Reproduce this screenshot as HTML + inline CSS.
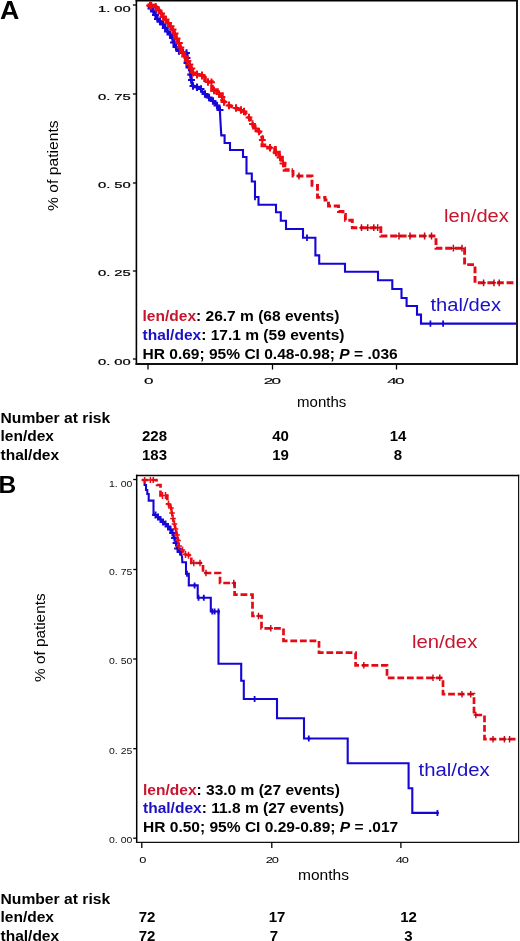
<!DOCTYPE html>
<html><head><meta charset="utf-8"><style>
html,body{margin:0;padding:0;background:#fff;}
svg{display:block;font-family:"Liberation Sans", sans-serif;will-change:transform;}
</style></head><body>
<svg width="520" height="941" viewBox="0 0 520 941">
<defs>
<clipPath id="cA"><rect x="137" y="1" width="379" height="362"/></clipPath>
<clipPath id="cB"><rect x="137" y="476" width="381" height="366"/></clipPath>
</defs>
<rect width="520" height="941" fill="#fff"/>
<line x1="136.4" y1="-0.10000000000000009" x2="136.4" y2="364.95" stroke="#000" stroke-width="1.6"/>
<line x1="135.6" y1="0.7" x2="517.95" y2="0.7" stroke="#000" stroke-width="1.6"/>
<line x1="517" y1="-0.10000000000000009" x2="517" y2="364.95" stroke="#111" stroke-width="1.9"/>
<line x1="135.6" y1="364" x2="517.95" y2="364" stroke="#111" stroke-width="1.9"/>
<line x1="132.9" y1="5" x2="136.4" y2="5" stroke="#000" stroke-width="1.3"/>
<line x1="132.9" y1="94" x2="136.4" y2="94" stroke="#000" stroke-width="1.3"/>
<line x1="132.9" y1="183" x2="136.4" y2="183" stroke="#000" stroke-width="1.3"/>
<line x1="132.9" y1="271" x2="136.4" y2="271" stroke="#000" stroke-width="1.3"/>
<line x1="132.9" y1="359" x2="136.4" y2="359" stroke="#000" stroke-width="1.3"/>
<line x1="148" y1="364" x2="148" y2="369.5" stroke="#000" stroke-width="1.3"/>
<line x1="272.5" y1="364" x2="272.5" y2="369.5" stroke="#000" stroke-width="1.3"/>
<line x1="396.5" y1="364" x2="396.5" y2="369.5" stroke="#000" stroke-width="1.3"/>
<line x1="136.7" y1="474.85" x2="136.7" y2="843.05" stroke="#000" stroke-width="1.5"/>
<line x1="135.95" y1="475.5" x2="519.2" y2="475.5" stroke="#000" stroke-width="1.3"/>
<line x1="518.6" y1="474.85" x2="518.6" y2="843.05" stroke="#111" stroke-width="1.2"/>
<line x1="135.95" y1="842.4" x2="519.2" y2="842.4" stroke="#111" stroke-width="1.3"/>
<line x1="133.2" y1="479.5" x2="136.7" y2="479.5" stroke="#000" stroke-width="1.3"/>
<line x1="133.2" y1="569.5" x2="136.7" y2="569.5" stroke="#000" stroke-width="1.3"/>
<line x1="133.2" y1="659" x2="136.7" y2="659" stroke="#000" stroke-width="1.3"/>
<line x1="133.2" y1="748.7" x2="136.7" y2="748.7" stroke="#000" stroke-width="1.3"/>
<line x1="133.2" y1="838.2" x2="136.7" y2="838.2" stroke="#000" stroke-width="1.3"/>
<line x1="141.8" y1="842.4" x2="141.8" y2="847.9" stroke="#000" stroke-width="1.3"/>
<line x1="271.8" y1="842.4" x2="271.8" y2="847.9" stroke="#000" stroke-width="1.3"/>
<line x1="400.9" y1="842.4" x2="400.9" y2="847.9" stroke="#000" stroke-width="1.3"/>
<text transform="translate(130.8 11.7) scale(1.72 1)" font-size="8.6" font-weight="normal" fill="#000" text-anchor="end" stroke="#000" stroke-width="0.2">1. 00</text>
<text transform="translate(130.8 100) scale(1.72 1)" font-size="8.6" font-weight="normal" fill="#000" text-anchor="end" stroke="#000" stroke-width="0.2">0. 75</text>
<text transform="translate(130.8 188.3) scale(1.72 1)" font-size="8.6" font-weight="normal" fill="#000" text-anchor="end" stroke="#000" stroke-width="0.2">0. 50</text>
<text transform="translate(130.8 275.9) scale(1.72 1)" font-size="8.6" font-weight="normal" fill="#000" text-anchor="end" stroke="#000" stroke-width="0.2">0. 25</text>
<text transform="translate(130.8 365) scale(1.72 1)" font-size="8.6" font-weight="normal" fill="#000" text-anchor="end" stroke="#000" stroke-width="0.2">0. 00</text>
<text transform="translate(132.3 486.6) scale(1.22 1)" font-size="8.6" font-weight="normal" fill="#111" text-anchor="end" >1. 00</text>
<text transform="translate(132.3 574.9) scale(1.22 1)" font-size="8.6" font-weight="normal" fill="#111" text-anchor="end" >0. 75</text>
<text transform="translate(132.3 664.3) scale(1.22 1)" font-size="8.6" font-weight="normal" fill="#111" text-anchor="end" >0. 50</text>
<text transform="translate(132.3 754) scale(1.22 1)" font-size="8.6" font-weight="normal" fill="#111" text-anchor="end" >0. 25</text>
<text transform="translate(132.3 843.3) scale(1.22 1)" font-size="8.6" font-weight="normal" fill="#111" text-anchor="end" >0. 00</text>
<text transform="translate(148 384.3) scale(1.9 1)" font-size="9.0" font-weight="normal" fill="#000" text-anchor="middle" letter-spacing="-0.9" stroke="#000" stroke-width="0.12">0</text>
<text transform="translate(271.5 384.3) scale(1.9 1)" font-size="9.0" font-weight="normal" fill="#000" text-anchor="middle" letter-spacing="-0.9" stroke="#000" stroke-width="0.12">20</text>
<text transform="translate(395 384.3) scale(1.9 1)" font-size="9.0" font-weight="normal" fill="#000" text-anchor="middle" letter-spacing="-0.9" stroke="#000" stroke-width="0.12">40</text>
<text transform="translate(142.2 862.7) scale(1.38 1)" font-size="9.3" font-weight="normal" fill="#000" text-anchor="middle" letter-spacing="-0.9">0</text>
<text transform="translate(271.7 862.7) scale(1.38 1)" font-size="9.3" font-weight="normal" fill="#000" text-anchor="middle" letter-spacing="-0.9">20</text>
<text transform="translate(401.7 862.7) scale(1.38 1)" font-size="9.3" font-weight="normal" fill="#000" text-anchor="middle" letter-spacing="-0.9">40</text>
<text transform="translate(297 406.5) scale(1.03 1)" font-size="14.6" font-weight="normal" fill="#000" text-anchor="start" >months</text>
<text transform="translate(298 880.3) scale(1.065 1)" font-size="14.6" font-weight="normal" fill="#000" text-anchor="start" >months</text>
<text transform="translate(57.8 211) rotate(-90) scale(1.12 1)" font-size="14" fill="#000">% of patients</text>
<text transform="translate(44.8 682) rotate(-90) scale(1.095 1)" font-size="14" fill="#000">% of patients</text>
<text transform="translate(0.0 18.7) scale(1.07 1)" font-size="25" font-weight="bold" fill="#000" text-anchor="start" >A</text>
<text transform="translate(-1.5 493) scale(1.0 1)" font-size="24.5" font-weight="bold" fill="#000" text-anchor="start" >B</text>
<text transform="translate(444 221.5) scale(1.13 1)" font-size="17.8" font-weight="normal" fill="#c8142d" text-anchor="start" >len/dex</text>
<text transform="translate(430.5 310.8) scale(1.09 1)" font-size="18.5" font-weight="normal" fill="#1c10c4" text-anchor="start" >thal/dex</text>
<text transform="translate(412 647.8) scale(1.095 1)" font-size="18.5" font-weight="normal" fill="#c8142d" text-anchor="start" >len/dex</text>
<text transform="translate(418.5 776.4) scale(1.07 1)" font-size="19" font-weight="normal" fill="#1c10c4" text-anchor="start" >thal/dex</text>
<text transform="translate(142.5 321) scale(1.036 1)" font-size="15" font-weight="bold"><tspan fill="#c8142d">len/dex</tspan>: 26.7 m (68 events)</text>
<text transform="translate(142.5 340) scale(1.036 1)" font-size="15" font-weight="bold"><tspan fill="#1c10c4">thal/dex</tspan>: 17.1 m (59 events)</text>
<text transform="translate(142.5 359) scale(1.036 1)" font-size="15" font-weight="bold">HR 0.69; 95% CI 0.48-0.98; <tspan font-style="italic">P</tspan> = .036</text>
<text transform="translate(143 794.5) scale(1.036 1)" font-size="15" font-weight="bold"><tspan fill="#c8142d">len/dex</tspan>: 33.0 m (27 events)</text>
<text transform="translate(143 813) scale(1.036 1)" font-size="15" font-weight="bold"><tspan fill="#1c10c4">thal/dex</tspan>: 11.8 m (27 events)</text>
<text transform="translate(143 832) scale(1.036 1)" font-size="15" font-weight="bold">HR 0.50; 95% CI 0.29-0.89; <tspan font-style="italic">P</tspan> = .017</text>
<text transform="translate(0.5 422.5) scale(1.045 1)" font-size="15" font-weight="bold" fill="#000" text-anchor="start" >Number at risk</text>
<text transform="translate(0.5 441) scale(1.035 1)" font-size="15" font-weight="bold" fill="#000" text-anchor="start" >len/dex</text>
<text transform="translate(0.5 460.3) scale(1.035 1)" font-size="15" font-weight="bold" fill="#000" text-anchor="start" >thal/dex</text>
<text transform="translate(154.5 441) scale(1.0 1)" font-size="15" font-weight="bold" fill="#000" text-anchor="middle" >228</text>
<text transform="translate(154.5 460.3) scale(1.0 1)" font-size="15" font-weight="bold" fill="#000" text-anchor="middle" >183</text>
<text transform="translate(280.5 441) scale(1.0 1)" font-size="15" font-weight="bold" fill="#000" text-anchor="middle" >40</text>
<text transform="translate(280.5 460.3) scale(1.0 1)" font-size="15" font-weight="bold" fill="#000" text-anchor="middle" >19</text>
<text transform="translate(398 441) scale(1.0 1)" font-size="15" font-weight="bold" fill="#000" text-anchor="middle" >14</text>
<text transform="translate(398 460.3) scale(1.0 1)" font-size="15" font-weight="bold" fill="#000" text-anchor="middle" >8</text>
<text transform="translate(0.5 903.5) scale(1.045 1)" font-size="15" font-weight="bold" fill="#000" text-anchor="start" >Number at risk</text>
<text transform="translate(0.5 922) scale(1.035 1)" font-size="15" font-weight="bold" fill="#000" text-anchor="start" >len/dex</text>
<text transform="translate(0.5 940.8) scale(1.035 1)" font-size="15" font-weight="bold" fill="#000" text-anchor="start" >thal/dex</text>
<text transform="translate(147 922) scale(1.0 1)" font-size="15" font-weight="bold" fill="#000" text-anchor="middle" >72</text>
<text transform="translate(147 940.8) scale(1.0 1)" font-size="15" font-weight="bold" fill="#000" text-anchor="middle" >72</text>
<text transform="translate(277 922) scale(1.0 1)" font-size="15" font-weight="bold" fill="#000" text-anchor="middle" >17</text>
<text transform="translate(274 940.8) scale(1.0 1)" font-size="15" font-weight="bold" fill="#000" text-anchor="middle" >7</text>
<text transform="translate(408.5 922) scale(1.0 1)" font-size="15" font-weight="bold" fill="#000" text-anchor="middle" >12</text>
<text transform="translate(408.5 940.8) scale(1.0 1)" font-size="15" font-weight="bold" fill="#000" text-anchor="middle" >3</text>
<g clip-path="url(#cA)">
<path d="M148.0,5.0 L150.0,7.8 L152.5,10.3 L154.5,12.5 L156.0,16.0 L158.0,20.5 L161.5,22.0 L164.0,25.5 L166.0,29.5 L168.5,32.5 L171.0,35.5 L173.5,40.0 L175.0,46.0 L178.0,50.0 L181.0,52.5 L187.0,53.0 L187.0,66.0 L190.0,68.0 L190.5,75.0 L191.5,81.5 L193.0,86.0 L197.0,87.0 L200.0,87.5 L202.3,91.5 L207.0,96.0 L211.5,99.6 L216.0,104.2 L219.8,108.8" fill="none" stroke="#1808d8" stroke-width="3.0" stroke-linejoin="round"/>
<path d="M219.8,108.8 L220.4,120.4 L221.3,135.4 L224.6,135.4 L224.6,143.0 L230.0,143.0 L230.0,150.0 L243.0,150.0 L243.0,157.0 L246.5,157.0 L246.5,173.5 L251.8,173.5 L251.8,181.5 L255.0,181.5 L255.0,197.0 L258.5,197.0 L258.5,204.8 L276.0,204.8 L276.0,212.3 L280.8,212.3 L280.8,220.8 L286.0,220.8 L286.0,229.0 L303.0,229.0 L303.0,237.7 L315.4,237.7 L315.4,255.4 L319.2,255.4 L319.2,263.7 L345.0,263.7 L345.0,271.7 L378.0,271.7 L378.0,280.3 L392.3,280.3 L392.3,289.0 L401.5,289.0 L401.5,298.0 L406.6,298.0 L406.6,306.0 L417.0,306.0 L417.0,314.6 L421.0,314.6 L421.0,323.6 L516.0,323.6" fill="none" stroke="#1606d6" stroke-width="2.1" stroke-linejoin="miter"/>
<path d="M151.0,4.8V12.2M147.5,8.5H154.5M153.5,7.8V15.2M150.0,11.5H157.0M155.5,11.3V18.7M152.0,15.0H159.0M157.5,15.3V22.7M154.0,19.0H161.0M160.0,17.8V25.2M156.5,21.5H163.5M163.0,20.8V28.2M159.5,24.5H166.5M165.3,24.3V31.7M161.8,28.0H168.8M167.5,27.8V35.2M164.0,31.5H171.0M170.0,30.8V38.2M166.5,34.5H173.5M172.5,34.3V41.7M169.0,38.0H176.0M173.5,38.8V46.2M170.0,42.5H177.0M176.0,43.3V50.7M172.5,47.0H179.5M179.0,47.3V54.7M175.5,51.0H182.5M183.0,49.1V56.5M179.5,52.8H186.5M186.5,49.3V56.7M183.0,53.0H190.0M187.0,54.3V61.7M183.5,58.0H190.5M187.0,59.3V66.7M183.5,63.0H190.5M189.0,63.8V71.2M185.5,67.5H192.5M190.8,70.9V78.3M187.3,74.6H194.3M191.5,76.3V83.7M188.0,80.0H195.0M193.0,82.3V89.7M189.5,86.0H196.5M197.0,83.6V91.0M193.5,87.3H200.5M201.0,85.3V92.7M197.5,89.0H204.5M205.0,90.3V97.7M201.5,94.0H208.5M209.0,93.8V101.2M205.5,97.5H212.5M213.0,97.3V104.7M209.5,101.0H216.5M217.0,101.8V109.2M213.5,105.5H220.5M220.0,106.3V113.7M216.5,110.0H223.5" fill="none" stroke="#1808d8" stroke-width="2.1"/>
<path d="M255.0,193.8V200.2M307.0,234.5V240.9M430.4,320.4V326.8M443.1,320.4V326.8" fill="none" stroke="#1606d6" stroke-width="1.8"/>
<path d="M147.5,5.0 L155.0,5.5 L158.0,8.5 L161.0,12.5 L163.5,17.0 L167.0,21.5 L170.3,25.8 L173.2,30.7 L176.3,38.0 L179.5,45.0 L182.0,51.5 L185.5,57.0 L188.7,63.0 L191.6,69.0 L193.0,73.5 L200.0,75.0 L205.0,76.0" fill="none" stroke="#ee0a10" stroke-width="3.6" stroke-linejoin="round"/>
<path d="M205.0,76.0 L205.0,82.0 L212.0,82.0 L212.0,90.0 L217.0,90.0 L217.0,94.0 L222.0,94.0 L222.0,100.0 L225.0,102.0 L229.0,105.4 L236.0,108.0 L244.0,111.5 L249.0,117.5 L252.5,124.0 L255.5,128.4 L259.0,131.5 L262.3,137.0 L262.3,145.4 L268.0,145.4 L268.0,147.7 L275.0,147.7 L275.0,152.5 L279.0,152.5 L279.0,157.5 L282.0,157.5 L282.0,163.5 L284.5,163.5 L284.5,170.0 L293.0,170.0" fill="none" stroke="#ee0a10" stroke-width="3.6" stroke-linejoin="miter" stroke-dasharray="6 2"/>
<path d="M293.0,170.0 L293.0,176.0 L312.0,176.0 L312.0,185.4 L317.5,185.4 L317.5,197.4 L325.0,197.4 L325.0,200.0 L328.5,200.0 L328.5,206.0 L338.5,206.0 L338.5,211.5 L343.0,211.5 L343.0,214.5 L345.4,214.5 L345.4,220.3 L352.3,220.3 L352.3,227.7 L380.8,227.7 L380.8,236.0 L436.0,236.0 L436.0,248.2 L464.6,248.2 L464.6,264.6 L475.0,264.6 L475.0,282.8 L516.0,282.8" fill="none" stroke="#e60a16" stroke-width="2.9" stroke-linejoin="miter" stroke-dasharray="6.8 2.8"/>
<path d="M150.0,1.5V9.5M146.2,5.5H153.8M151.2,1.8V9.8M147.4,5.8H155.0M155.7,3.0V11.0M151.9,7.0H159.5M158.7,6.5V14.5M154.9,10.5H162.5M161.2,9.5V17.5M157.4,13.5H165.0M163.2,13.0V21.0M159.4,17.0H167.0M165.7,15.5V23.5M161.9,19.5H169.5M168.2,19.0V27.0M164.4,23.0H172.0M170.7,22.3V30.3M166.9,26.3H174.5M172.7,25.5V33.5M168.9,29.5H176.5M174.7,29.5V37.5M170.9,33.5H178.5M176.7,34.5V42.5M172.9,38.5H180.5M179.0,39.0V47.0M175.2,43.0H182.8M180.5,43.5V51.5M176.7,47.5H184.3M182.5,48.5V56.5M178.7,52.5H186.3M185.0,52.5V60.5M181.2,56.5H188.8M187.5,57.0V65.0M183.7,61.0H191.3M189.5,60.5V68.5M185.7,64.5H193.3M191.5,64.5V72.5M187.7,68.5H195.3M193.0,68.5V76.5M189.2,72.5H196.8M197.0,70.5V78.5M193.2,74.5H200.8M202.0,71.5V79.5M198.2,75.5H205.8" fill="none" stroke="#ee0a10" stroke-width="2.0"/>
<path d="M208.0,78.2V85.8M204.6,82.0H211.4M211.5,78.5V86.1M208.1,82.3H214.9M214.0,86.6V94.2M210.6,90.4H217.4M219.0,90.2V97.8M215.6,94.0H222.4M222.0,93.2V100.8M218.6,97.0H225.4M224.0,98.2V105.8M220.6,102.0H227.4M229.0,101.6V109.2M225.6,105.4H232.4M236.0,104.2V111.8M232.6,108.0H239.4M241.0,106.2V113.8M237.6,110.0H244.4M244.0,107.7V115.3M240.6,111.5H247.4M249.0,113.7V121.3M245.6,117.5H252.4M252.5,120.2V127.8M249.1,124.0H255.9M255.5,124.6V132.2M252.1,128.4H258.9M259.0,127.7V135.3M255.6,131.5H262.4M262.3,136.2V143.8M258.9,140.0H265.7M270.0,143.9V151.5M266.6,147.7H273.4M276.0,148.7V156.3M272.6,152.5H279.4M280.0,153.7V161.3M276.6,157.5H283.4M283.0,159.7V167.3M279.6,163.5H286.4" fill="none" stroke="#ee0a10" stroke-width="2.0"/>
<path d="M299.0,172.6V179.4M296.8,176.0H301.2M361.5,224.3V231.1M359.3,227.7H363.7M367.7,224.3V231.1M365.5,227.7H369.9M373.8,224.3V231.1M371.6,227.7H376.0M377.7,224.3V231.1M375.5,227.7H379.9M399.0,232.6V239.4M396.8,236.0H401.2M410.0,232.6V239.4M407.8,236.0H412.2M424.6,232.6V239.4M422.4,236.0H426.8M431.5,232.6V239.4M429.3,236.0H433.7M453.4,244.8V251.6M451.2,248.2H455.6M462.0,244.8V251.6M459.8,248.2H464.2M483.6,279.4V286.2M481.4,282.8H485.8M494.0,279.4V286.2M491.8,282.8H496.2M499.2,279.4V286.2M497.0,282.8H501.4" fill="none" stroke="#c00814" stroke-width="1.5"/>
</g>
<g clip-path="url(#cB)">
<path d="M141.8,480.0 L144.6,480.0 L144.6,485.0 L146.0,485.0 L146.0,490.0 L147.3,490.0 L147.3,494.0 L148.7,494.0 L148.7,500.6 L153.5,500.6 L153.5,514.0 L155.0,514.5" fill="none" stroke="#1606d6" stroke-width="2.1" stroke-linejoin="miter"/>
<path d="M155.0,514.5 L158.0,516.5 L161.5,520.5 L164.5,523.0 L167.7,525.8 L171.5,531.0 L173.8,535.8 L175.4,541.0 L177.3,548.0 L179.6,551.5 L182.0,556.0" fill="none" stroke="#1606d6" stroke-width="2.3" stroke-linejoin="round"/>
<path d="M182.0,556.0 L182.3,562.3 L186.0,562.3 L186.0,573.8 L188.8,573.8 L188.8,585.4 L197.7,585.4 L197.7,597.7 L210.8,597.7 L210.8,611.5 L218.5,611.5 L218.5,663.8 L241.2,663.8 L241.2,680.8 L243.8,680.8 L243.8,699.0 L277.0,699.0 L277.0,718.3 L304.0,718.3 L304.0,738.5 L347.7,738.5 L347.7,763.2 L408.6,763.2 L408.6,788.3 L412.3,788.3 L412.3,812.9 L438.8,812.9" fill="none" stroke="#1606d6" stroke-width="2.1" stroke-linejoin="miter"/>
<path d="M155.5,511.4V518.6M152.1,515.0H158.9M158.0,513.4V520.6M154.6,517.0H161.4M160.5,515.9V523.1M157.1,519.5H163.9M163.0,518.4V525.6M159.6,522.0H166.4M165.5,520.4V527.6M162.1,524.0H168.9M168.0,522.9V530.1M164.6,526.5H171.4M170.5,525.9V533.1M167.1,529.5H173.9M172.5,529.4V536.6M169.1,533.0H175.9M174.5,534.4V541.6M171.1,538.0H177.9M176.0,539.4V546.6M172.6,543.0H179.4M177.5,544.9V552.1M174.1,548.5H180.9M180.0,548.4V555.6M176.6,552.0H183.4" fill="none" stroke="#1808d8" stroke-width="2.0"/>
<path d="M187.0,570.8V576.8M185.5,573.8H188.5M194.6,582.4V588.4M193.1,585.4H196.1M198.5,594.7V600.7M197.0,597.7H200.0M203.8,594.7V600.7M202.3,597.7H205.3M212.3,608.5V614.5M210.8,611.5H213.8M214.6,608.5V614.5M213.1,611.5H216.1M218.5,608.5V614.5M217.0,611.5H220.0M254.6,696.0V702.0M253.1,699.0H256.1M308.8,735.5V741.5M307.3,738.5H310.3M437.4,809.9V815.9M435.9,812.9H438.9" fill="none" stroke="#1606d6" stroke-width="1.8"/>
<path d="M141.8,480.0 L156.5,480.0 L157.0,485.0 L160.5,485.0 L160.5,495.5 L167.3,495.5 L167.3,503.5 L170.0,505.0" fill="none" stroke="#e60a16" stroke-width="2.7" stroke-linejoin="miter" stroke-dasharray="6.8 2.8"/>
<path d="M170.0,505.0 L171.5,509.6 L172.3,515.8 L173.8,522.0 L175.4,528.0 L177.0,534.2 L178.5,541.0 L179.0,547.0 L182.0,549.2 L184.2,553.8" fill="none" stroke="#e60a16" stroke-width="2.4" stroke-linejoin="miter" stroke-dasharray="5 1.5"/>
<path d="M184.2,553.8 L187.7,555.2 L191.3,555.2 L191.3,563.0 L203.0,563.0 L203.0,573.0 L220.0,573.0 L220.0,583.0 L234.6,583.0 L234.6,594.6 L252.5,594.6 L252.5,616.0 L261.5,616.0 L261.5,628.3 L283.5,628.3 L283.5,640.8 L319.0,640.8 L319.0,652.7 L355.6,652.7 L355.6,665.3 L387.0,665.3 L387.0,677.8 L443.0,677.8 L443.0,694.2 L474.0,694.2 L474.0,715.0 L484.5,715.0 L484.5,739.2 L518.0,739.2" fill="none" stroke="#e60a16" stroke-width="2.7" stroke-linejoin="miter" stroke-dasharray="6.8 2.8"/>
<path d="M144.6,477.0V483.0M142.6,480.0H146.6M150.4,477.0V483.0M148.4,480.0H152.4M153.3,477.0V483.0M151.3,480.0H155.3" fill="none" stroke="#e60a16" stroke-width="1.5"/>
<path d="M162.5,492.0V499.0M159.7,495.5H165.3M165.5,492.0V499.0M162.7,495.5H168.3M168.5,500.5V507.5M165.7,504.0H171.3M171.0,504.5V511.5M168.2,508.0H173.8M172.0,509.5V516.5M169.2,513.0H174.8M173.0,515.0V522.0M170.2,518.5H175.8M174.5,520.5V527.5M171.7,524.0H177.3M175.5,525.5V532.5M172.7,529.0H178.3M177.0,531.5V538.5M174.2,535.0H179.8M178.0,537.0V544.0M175.2,540.5H180.8M179.0,542.5V549.5M176.2,546.0H181.8M182.5,546.5V553.5M179.7,550.0H185.3M185.5,551.0V558.0M182.7,554.5H188.3M188.5,551.7V558.7M185.7,555.2H191.3" fill="none" stroke="#ee0a10" stroke-width="1.5"/>
<path d="M193.8,559.8V566.2M191.6,563.0H196.0M200.0,559.8V566.2M197.8,563.0H202.2M206.0,569.8V576.2M203.8,573.0H208.2M233.8,579.8V586.2M231.6,583.0H236.0M258.5,612.8V619.2M256.3,616.0H260.7M270.8,625.1V631.5M268.6,628.3H273.0M363.8,662.1V668.5M361.6,665.3H366.0M433.0,674.6V681.0M430.8,677.8H435.2M439.8,674.6V681.0M437.6,677.8H442.0M462.0,691.0V697.4M459.8,694.2H464.2M470.7,691.0V697.4M468.5,694.2H472.9M475.8,711.8V718.2M473.6,715.0H478.0M493.0,736.0V742.4M490.8,739.2H495.2M504.4,736.0V742.4M502.2,739.2H506.6M509.6,736.0V742.4M507.4,739.2H511.8" fill="none" stroke="#c00814" stroke-width="1.4"/>
</g>
</svg>
</body></html>
